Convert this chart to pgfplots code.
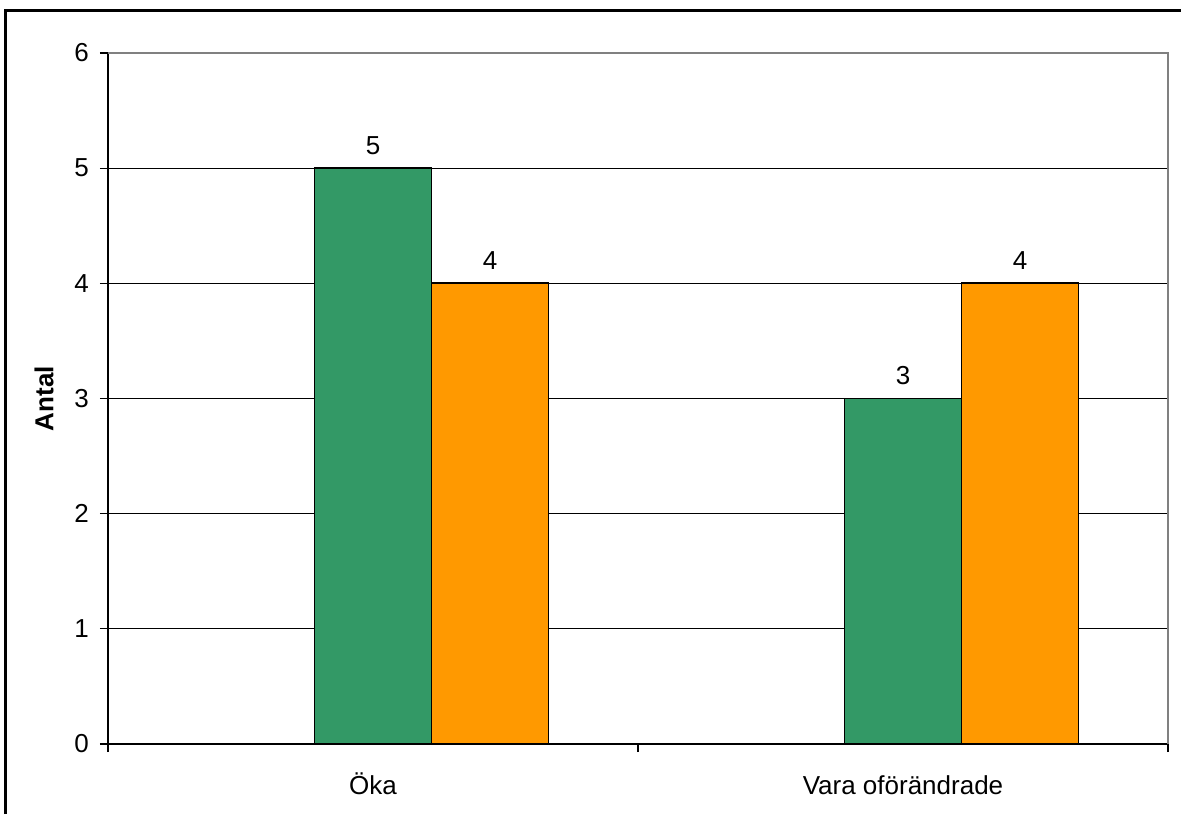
\documentclass[border=0pt]{standalone}
\usepackage{pgfplots}
\pgfplotsset{compat=1.18}
\usepackage{fontspec}
\setmainfont{Liberation Sans}
\definecolor{bargreen}{HTML}{339966}
\definecolor{barorange}{HTML}{FF9900}
\begin{document}
\begin{tikzpicture}
\path[use as bounding box] (0,0) rectangle (590.5pt,407pt);
\draw[line width=1.5pt] (2.5pt,0pt) -- (2.5pt,401.5pt) -- (590.5pt,401.5pt);
\begin{axis}[
  at={(54pt,35pt)}, anchor=south west,
  width=530pt, height=345.5pt, scale only axis,
  xmin=-0.5, xmax=1.5, ymin=0, ymax=6,
  ybar=0pt, bar width=58.5pt,
  axis x line*=bottom, axis y line*=left,
  axis line style={black, line width=0.6pt},
  xtick={0,1}, xticklabels={Öka, Vara oförändrade},
  minor xtick={-0.5,0.5,1.5},
  ytick={0,1,2,3,4,5,6},
  tick align=outside,
  major x tick style={draw=none},
  major tick length=4pt, minor tick length=4pt,
  every tick/.style={black, line width=0.6pt},
  ymajorgrids, grid style={black, line width=0.5pt},
  /pgf/number format/assume math mode=true,
  tick label style={font=\fontsize{13pt}{15pt}\selectfont},
  xticklabel style={text height=9.5pt, text depth=3pt, yshift=-8pt},
  yticklabel style={xshift=-2pt},
  ylabel={\textbf{Antal}},
  ylabel style={font=\fontsize{13pt}{15pt}\selectfont, yshift=3.5pt},
  nodes near coords,
  every node near coord/.append style={font=\fontsize{13pt}{15pt}\selectfont, yshift=3pt},
  clip=false,
]
\addplot[fill=bargreen, draw=black, line width=0.9pt, bar shift=0pt] coordinates {(0,5) (1,3)};
\addplot[fill=barorange, draw=black, line width=0.9pt, bar shift=58.5pt] coordinates {(0,4) (1,4)};
\draw[gray, line width=0.8pt] (rel axis cs:0,1) -- (rel axis cs:1,1) -- (rel axis cs:1,0);
\end{axis}
\end{tikzpicture}
\end{document}
